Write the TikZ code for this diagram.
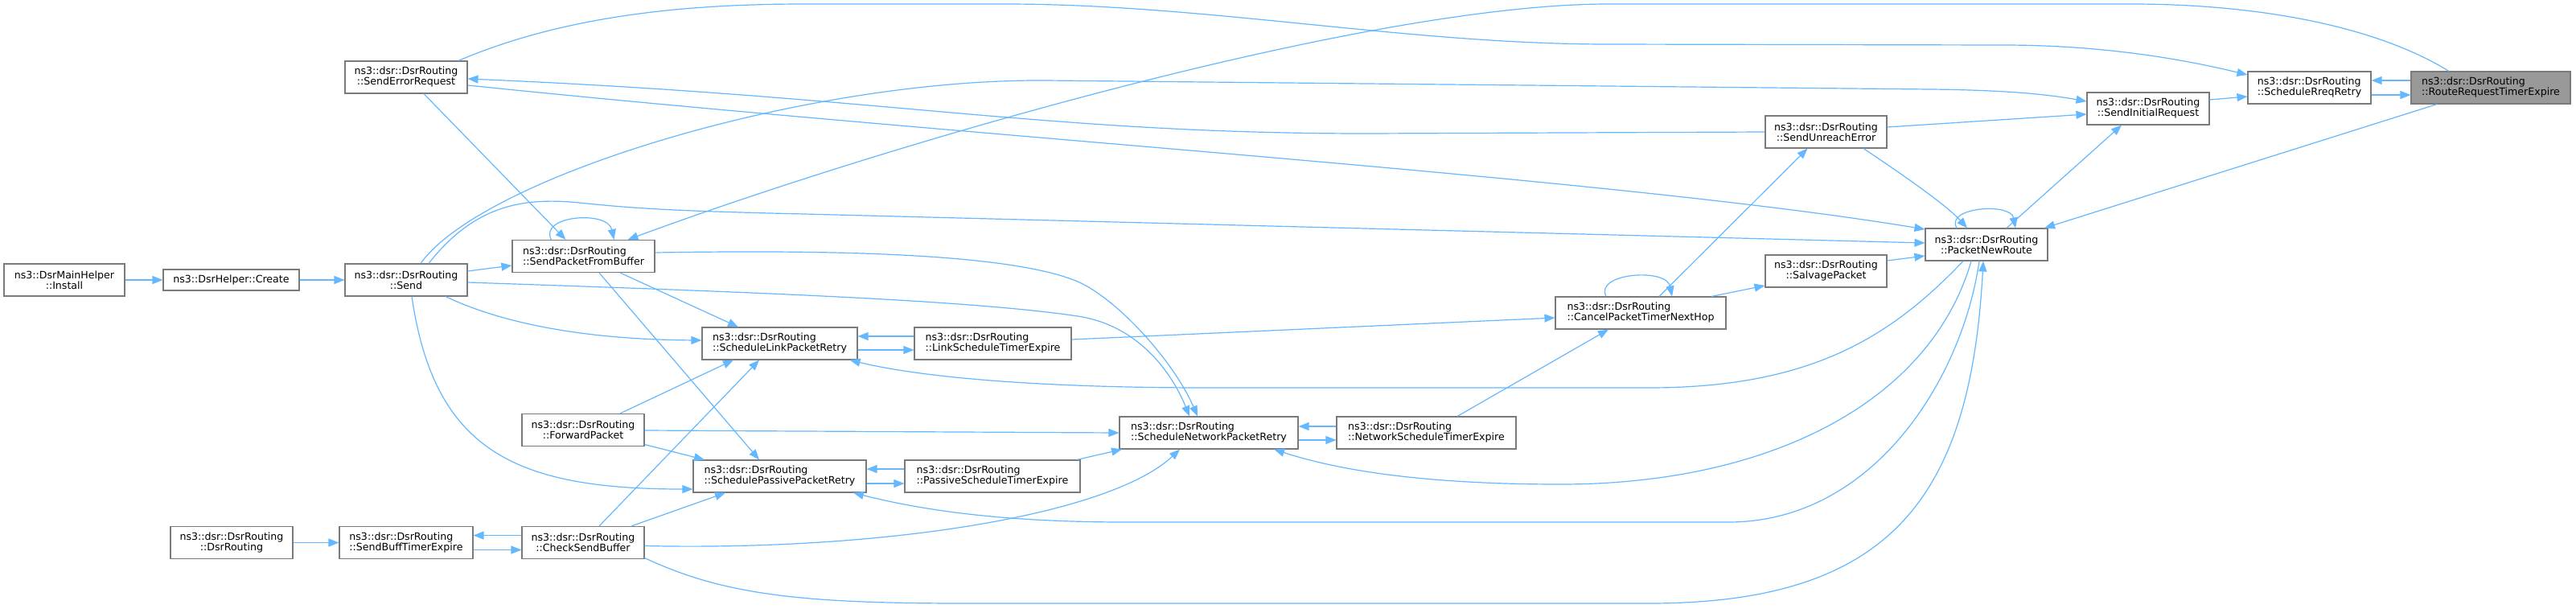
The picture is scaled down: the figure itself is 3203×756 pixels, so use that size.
\documentclass[tikz,border=0pt]{standalone}
\usepackage{fontspec}
\setmainfont{DejaVu Sans}
\usetikzlibrary{arrows.meta,calc}
\definecolor{edgec}{HTML}{63B8FF}
\definecolor{bordc}{HTML}{7A7A7A}
\definecolor{hlc}{HTML}{999999}
\newcommand\nmtwo[2]{\setbox0=\hbox{#1}\setbox2=\hbox{#2}%
\ifdim\wd0>\wd2 \dimen0=\wd0 \else \dimen0=\wd2 \fi
\vbox{\hbox to\dimen0{#1\hfil}\hbox to\dimen0{\hfil#2\hfil}}}
\begin{document}
\begin{tikzpicture}[x=1pt,y=-1pt,
  fnode/.style={draw=bordc, line width=1.1pt, fill=white, minimum height=40pt, inner sep=0pt,
    font=\fontsize{12.6}{13}\selectfont, text=black},
  hlnode/.style={fnode, fill=hlc},
  cedge/.style={draw=edgec, line width=1.2pt, -{Triangle[length=13pt,width=10pt]}}]
\fill[white] (0,0) rectangle (3203,756);
\useasboundingbox (0,0) rectangle (3203,756);
% nodes
\node[fnode, minimum width=150pt] (install) at (80,348) {\nmtwo{ns3::DsrMainHelper}{::Install}};
\node[fnode, minimum width=169pt, minimum height=26pt] (create) at (287.5,348) {ns3::DsrHelper::Create};
\node[fnode, minimum width=152pt] (send) at (505,348) {\nmtwo{ns3::dsr::DsrRouting}{::Send}};
\node[fnode, minimum width=152pt] (ser) at (505,96) {\nmtwo{ns3::dsr::DsrRouting}{::SendErrorRequest}};
\node[fnode, minimum width=177pt] (spfb) at (725.5,318.5) {\nmtwo{ns3::dsr::DsrRouting}{::SendPacketFromBuffer}};
\node[fnode, minimum width=152pt] (dsr) at (288,674.5) {\nmtwo{ns3::dsr::DsrRouting}{::DsrRouting}};
\node[fnode, minimum width=166pt] (sbte) at (505,674.5) {\nmtwo{ns3::dsr::DsrRouting}{::SendBuffTimerExpire}};
\node[fnode, minimum width=152pt] (csb) at (725,674.5) {\nmtwo{ns3::dsr::DsrRouting}{::CheckSendBuffer}};
\node[fnode, minimum width=152pt] (fp) at (725,534.5) {\nmtwo{ns3::dsr::DsrRouting}{::ForwardPacket}};
\node[fnode, minimum width=193pt] (slpr) at (969.5,427) {\nmtwo{ns3::dsr::DsrRouting}{::ScheduleLinkPacketRetry}};
\node[fnode, minimum width=195pt] (lste) at (1234.5,427) {\nmtwo{ns3::dsr::DsrRouting}{::LinkScheduleTimerExpire}};
\node[fnode, minimum width=222pt] (snpr) at (1503,538) {\nmtwo{ns3::dsr::DsrRouting}{::ScheduleNetworkPacketRetry}};
\node[fnode, minimum width=215pt] (sppr) at (969.5,592) {\nmtwo{ns3::dsr::DsrRouting}{::SchedulePassivePacketRetry}};
\node[fnode, minimum width=218pt] (pste) at (1234,592) {\nmtwo{ns3::dsr::DsrRouting}{::PassiveScheduleTimerExpire}};
\node[fnode, minimum width=223pt] (nste) at (1773.5,538) {\nmtwo{ns3::dsr::DsrRouting}{::NetworkScheduleTimerExpire}};
\node[fnode, minimum width=212pt] (cptnh) at (2040,389) {\nmtwo{ns3::dsr::DsrRouting}{::CancelPacketTimerNextHop}};
\node[fnode, minimum width=151pt] (sue) at (2270.5,164) {\nmtwo{ns3::dsr::DsrRouting}{::SendUnreachError}};
\node[fnode, minimum width=151pt] (salv) at (2270.5,337) {\nmtwo{ns3::dsr::DsrRouting}{::SalvagePacket}};
\node[fnode, minimum width=152pt] (pnr) at (2470,304) {\nmtwo{ns3::dsr::DsrRouting}{::PacketNewRoute}};
\node[fnode, minimum width=152pt] (sir) at (2671,135) {\nmtwo{ns3::dsr::DsrRouting}{::SendInitialRequest}};
\node[fnode, minimum width=153pt] (srr) at (2871.5,109) {\nmtwo{ns3::dsr::DsrRouting}{::ScheduleRreqRetry}};
\node[hlnode, minimum width=198pt] (rrte) at (3097,109) {\nmtwo{ns3::dsr::DsrRouting}{::RouteRequestTimerExpire}};
% edges
\draw[cedge] (install.east) -- (create.west);
\draw[cedge] (create.east) -- (send.west);
\draw[cedge] ($(send.east)+(0,-11)$) -- ($(spfb.west)+(0,11.5)$);
\draw[cedge] (dsr.east) -- (sbte.west);
\draw[cedge] ($(csb.west)+(0,-9)$) -- ($(sbte.east)+(0,-9)$);
\draw[cedge] ($(sbte.east)+(0,9)$) -- ($(csb.west)+(0,9)$);
\draw[cedge] ($(ser.south)+(22,0)$) -- ($(spfb.north)+(-22,0)$);
\draw[cedge] ($(spfb.north)+(-40,0)$) .. controls ($(spfb.north)+(-56,-30)$) and ($(spfb.north)+(30,-37)$) .. ($(spfb.north)+(38,0)$);
\draw[cedge] ($(spfb.east)+(0,-4.5)$) .. controls (1000,311) and (1250,312) .. (1340,350) .. controls (1390,372) and (1460,450) .. ($(snpr.north)+(-14,0)$);
\draw[cedge] ($(send.east)+(0,3)$) .. controls (900,362) and (1200,372) .. (1340,393) .. controls (1420,405) and (1460,470) .. ($(snpr.north)+(-24,0)$);
\draw[cedge] ($(spfb.south)+(45.5,0)$) -- ($(slpr.north)+(-51.5,0)$);
\draw[cedge] ($(spfb.south)+(19.5,0)$) -- ($(sppr.north)+(-25.5,0)$);
\draw[cedge] ($(send.south)+(49,0)$) .. controls (620,400) and (720,422) .. ($(slpr.west)+(0,-4)$);
\draw[cedge] ($(send.south)+(7,0)$) .. controls (540,560) and (640,608) .. ($(sppr.west)+(0,16)$);
\draw[cedge] ($(send.north)+(18,0)$) .. controls (600,220) and (1000,98) .. (1300,100) -- (2400,111) .. controls (2500,112) and (2550,118) .. ($(sir.west)+(0,-9)$);
\draw[cedge] ($(send.north)+(28,0)$) .. controls (590,255) and (650,245) .. (720,252) .. controls (780,258) and (820,262) .. (1000,266) -- ($(pnr.west)+(0,-2)$);
\draw[cedge] ($(ser.north)+(65,0)$) .. controls (700,20) and (850,5) .. (1000,5) -- (1250,5) .. controls (1500,5) and (1750,55) .. (2000,55) -- (2490,56) .. controls (2620,56) and (2720,75) .. ($(srr.west)+(0,-16)$);
\draw[cedge] ($(rrte.north)+(-52,0)$) .. controls (2950,30) and (2800,5) .. (2650,5) -- (2000,5) .. controls (1700,5) and (1100,180) .. ($(spfb.north)+(55,0)$);
\draw[cedge] (sue.west) -- (1700,166) .. controls (1300,166) and (1100,120) .. ($(ser.east)+(0,2)$);
\draw[cedge] ($(ser.east)+(0,10)$) .. controls (1200,170) and (2000,220) .. ($(pnr.west)+(0,-19)$);
\draw[cedge] ($(sue.south)+(46.5,0)$) .. controls (2370,220) and (2420,255) .. ($(pnr.north)+(-24,0)$);
\draw[cedge] ($(sue.east)+(0,-6)$) -- ($(sir.west)+(0,7)$);
\draw[cedge] ($(cptnh.north)+(23,0)$) -- ($(sue.south)+(-23,0)$);
\draw[cedge] ($(cptnh.north)+(-43,0)$) .. controls ($(cptnh.north)+(-58,-29)$) and ($(cptnh.north)+(32,-36)$) .. ($(cptnh.north)+(39,0)$);
\draw[cedge] ($(cptnh.north)+(88,0)$) -- ($(salv.west)+(0,18)$);
\draw[cedge] ($(lste.east)+(0,-5)$) -- ($(cptnh.west)+(0,6)$);
\draw[cedge] ($(nste.north)+(38.5,0)$) -- ($(cptnh.south)+(-40,0)$);
\draw[cedge] ($(salv.east)+(0,-13)$) -- ($(pnr.west)+(0,14)$);
\draw[cedge] ($(pnr.north)+(-37,0)$) .. controls ($(pnr.north)+(-52,-26)$) and ($(pnr.north)+(30,-32)$) .. ($(pnr.north)+(36,0)$);
\draw[cedge] ($(pnr.north)+(25,0)$) -- ($(sir.south)+(-33,0)$);
\draw[cedge] ($(sir.east)+(0,-11)$) -- ($(srr.west)+(0,11)$);
\draw[cedge] ($(rrte.west)+(0,-9)$) -- ($(srr.east)+(0,-9)$);
\draw[cedge] ($(srr.east)+(0,9)$) -- ($(rrte.west)+(0,9)$);
\draw[cedge] ($(rrte.south)+(-67,0)$) -- ($(pnr.north)+(72,0)$);
\draw[cedge] ($(pnr.south)+(-29,0)$) .. controls (2350,420) and (2250,482) .. (2050,482) -- (1500,482) .. controls (1300,482) and (1150,470) .. ($(slpr.south)+(87,0)$);
\draw[cedge] ($(pnr.south)+(-19,0)$) .. controls (2400,500) and (2200,602) .. (1940,602) .. controls (1750,602) and (1650,580) .. ($(snpr.south)+(81,0)$);
\draw[cedge] ($(pnr.south)+(-9,0)$) .. controls (2440,470) and (2330,649) .. (2149,649) -- (1400,649) .. controls (1250,649) and (1150,635) .. ($(sppr.south)+(91.5,0)$);
\draw[cedge] ($(csb.east)+(0,19)$) .. controls (900,740) and (1000,750) .. (1200,750) -- (2050,750) .. controls (2350,750) and (2450,620) .. ($(pnr.south)+(-4,0)$);
\draw[cedge] ($(csb.east)+(0,4)$) .. controls (1100,685) and (1380,640) .. ($(snpr.south)+(-36,0)$);
\draw[cedge] ($(csb.north)+(20,0)$) -- ($(slpr.south)+(-25.5,0)$);
\draw[cedge] ($(csb.north)+(60,0)$) -- ($(sppr.south)+(-67.5,0)$);
\draw[cedge] ($(fp.north)+(46,0)$) -- ($(slpr.south)+(-57.5,0)$);
\draw[cedge] ($(fp.east)+(0,0.5)$) -- (snpr.west);
\draw[cedge] ($(fp.east)+(0,18)$) -- ($(sppr.north)+(-93.5,0)$);
\draw[cedge] ($(lste.west)+(0,-9)$) -- ($(slpr.east)+(0,-9)$);
\draw[cedge] ($(slpr.east)+(0,8)$) -- ($(lste.west)+(0,8)$);
\draw[cedge] ($(pste.west)+(0,-9)$) -- ($(sppr.east)+(0,-9)$);
\draw[cedge] ($(sppr.east)+(0,9)$) -- ($(pste.west)+(0,9)$);
\draw[cedge] ($(pste.north)+(105,0)$) -- ($(snpr.south)+(-108,0)$);
\draw[cedge] ($(nste.west)+(0,-8)$) -- ($(snpr.east)+(0,-8)$);
\draw[cedge] ($(snpr.east)+(0,9)$) -- ($(nste.west)+(0,9)$);
\end{tikzpicture}
\end{document}
